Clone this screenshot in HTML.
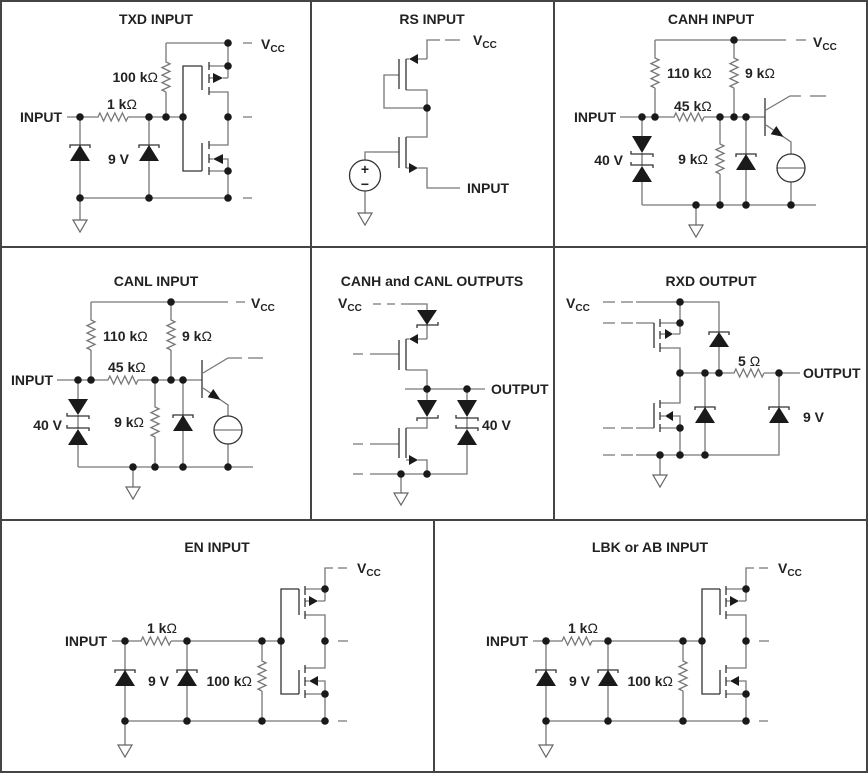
<!DOCTYPE html>
<html><head><meta charset="utf-8"><style>
html,body{margin:0;padding:0;background:#fff;}
svg{display:block;}
text{font-family:"Liberation Sans",Arial,sans-serif;font-weight:bold;font-size:14px;fill:#222;}
.o{font-weight:normal;}
.w{stroke:#777;stroke-width:1.3;fill:none;}
.k{stroke:#333;stroke-width:1.3;fill:none;}
.f{fill:#1a1a1a;stroke:none;}
.g{stroke:#666;stroke-width:1.2;fill:#fff;}
.d{fill:#1a1a1a;}
</style></head><body>
<svg width="868" height="773" viewBox="0 0 868 773">
<rect x="1" y="1" width="866" height="771" fill="none" stroke="#444" stroke-width="2"/>
<path d="M0,247H868M0,520H868M311,0V520M554,0V520M434,520V773" stroke="#444" stroke-width="2" fill="none"/>

<!-- Panel 1 TXD INPUT -->
<text x="156" y="24" text-anchor="middle">TXD INPUT</text>
<path class="w" d="M166,43H228M243,43H252M166,43V62l4,1.875 l-8,3.75 l8,3.75 l-8,3.75 l8,3.75 l-8,3.75 l8,3.75 l-8,3.75 l4,1.875M166,92V117
M67,117H98l1.875,-4 l3.75,8 l3.75,-8 l3.75,8 l3.75,-8 l3.75,8 l3.75,-8 l3.75,8 l1.875,-4M128,117H183
M228,43V78M209,66H228M223,78H228M209,78H213M209,92H228V145H209M243,117H252
M223,159H228V198M209,159H213M209,171H228M80,198H228M243,198H252M80,117V198M149,117V198M80,198V220"/>
<path class="g" d="M73,220H87L80,232Z"/>
<path class="k" d="M202,66H183V171H202M202,66V90M202,143V171M209,62V70M209,74V83M209,87V95M209,141V149M209,154V163M209,167V175
M70,148V145H90V148M139,148V145H159V148"/>
<path class="f" d="M213,73L223,78L213,83ZM223,154L213,159L223,164ZM70,161H90L80,145ZM139,161H159L149,145Z"/>
<g class="d"><circle cx="80" cy="117" r="3.8"/><circle cx="149" cy="117" r="3.8"/><circle cx="166" cy="117" r="3.8"/><circle cx="183" cy="117" r="3.8"/><circle cx="228" cy="43" r="3.8"/><circle cx="228" cy="66" r="3.8"/><circle cx="228" cy="117" r="3.8"/><circle cx="228" cy="171" r="3.8"/><circle cx="80" cy="198" r="3.8"/><circle cx="149" cy="198" r="3.8"/><circle cx="228" cy="198" r="3.8"/></g>
<text x="62" y="122" text-anchor="end">INPUT</text>
<text x="107" y="109">1 k<tspan class="o">Ω</tspan></text>
<text x="158" y="82" text-anchor="end">100 k<tspan class="o">Ω</tspan></text>
<text x="108" y="164">9 V</text>
<text x="261" y="49">V<tspan font-size="10" dy="3">CC</tspan></text>

<!-- Panel 2 RS INPUT -->
<text x="432" y="24" text-anchor="middle">RS INPUT</text>
<path class="w" d="M427,59V40H440M445,40H460M418,59H427M406,59H409M399,75H384V108H427M406,90H427V137H406M399,152H365V160
M406,168H409M418,168H427V188H460M365,191V213"/>
<path class="g" d="M358,213H372L365,225Z"/>
<path class="k" d="M406,59V90M406,137V168M399,59V89M399,137V168"/>
<path class="f" d="M409,59L418,54V64ZM409,163L418,168L409,173Z"/>
<circle cx="365" cy="175.5" r="15.5" fill="none" stroke="#333" stroke-width="1.3"/>
<text x="365" y="174" text-anchor="middle" font-size="13">+</text>
<text x="365" y="189" text-anchor="middle" font-size="13">−</text>
<circle class="d" cx="427" cy="108" r="3.8"/>
<text x="473" y="45">V<tspan font-size="10" dy="3">CC</tspan></text>
<text x="467" y="193">INPUT</text>

<!-- Panel 3 CANH INPUT -->
<text x="711" y="24" text-anchor="middle">CANH INPUT</text>
<path class="w" d="M655,40H786M796,40H806
M655,40V58l4,1.875 l-8,3.75 l8,3.75 l-8,3.75 l8,3.75 l-8,3.75 l8,3.75 l-8,3.75 l4,1.875M655,88V117
M734,40V58l4,1.875 l-8,3.75 l8,3.75 l-8,3.75 l8,3.75 l-8,3.75 l8,3.75 l-8,3.75 l4,1.875M734,88V117
M620,117H674l1.875,-4 l3.75,8 l3.75,-8 l3.75,8 l3.75,-8 l3.75,8 l3.75,-8 l3.75,8 l1.875,-4M704,117H765
M766,110L790,96H801M810,96H826M766,125L791,142V154M777,168H805M791,182V205M642,205H816M696,205V225
M642,117V136M642,153V166M642,182V205
M720,117V144l4,1.875 l-8,3.75 l8,3.75 l-8,3.75 l8,3.75 l-8,3.75 l8,3.75 l-8,3.75 l4,1.875M720,174V205M746,117V205"/>
<path class="g" d="M689,225H703L696,237Z"/>
<circle cx="791" cy="168" r="14" fill="none" stroke="#333" stroke-width="1.3"/>
<path class="k" d="M765,98V136M631,151V154H653V157M631,162V165H653V168M736,157V154H756V157"/>
<path class="f" d="M783.5,136.9L770.7,134.2L776.3,126ZM632,136H652L642,153ZM632,182H652L642,166ZM736,170H756L746,154Z"/>
<g class="d"><circle cx="734" cy="40" r="3.8"/><circle cx="642" cy="117" r="3.8"/><circle cx="655" cy="117" r="3.8"/><circle cx="720" cy="117" r="3.8"/><circle cx="734" cy="117" r="3.8"/><circle cx="746" cy="117" r="3.8"/><circle cx="696" cy="205" r="3.8"/><circle cx="720" cy="205" r="3.8"/><circle cx="746" cy="205" r="3.8"/><circle cx="791" cy="205" r="3.8"/></g>
<text x="813" y="47">V<tspan font-size="10" dy="3">CC</tspan></text>
<text x="667" y="78">110 k<tspan class="o">Ω</tspan></text>
<text x="745" y="78">9 k<tspan class="o">Ω</tspan></text>
<text x="616" y="122" text-anchor="end">INPUT</text>
<text x="674" y="111">45 k<tspan class="o">Ω</tspan></text>
<text x="623" y="165" text-anchor="end">40 V</text>
<text x="708" y="164" text-anchor="end">9 k<tspan class="o">Ω</tspan></text>

<!-- Panel 4 CANL INPUT -->
<text x="156" y="286" text-anchor="middle">CANL INPUT</text>
<path class="w" d="M91,302H228M236,302H245
M91,302V320l4,1.875 l-8,3.75 l8,3.75 l-8,3.75 l8,3.75 l-8,3.75 l8,3.75 l-8,3.75 l4,1.875M91,350V380
M171,302V320l4,1.875 l-8,3.75 l8,3.75 l-8,3.75 l8,3.75 l-8,3.75 l8,3.75 l-8,3.75 l4,1.875M171,350V380
M57,380H108l1.875,-4 l3.75,8 l3.75,-8 l3.75,8 l3.75,-8 l3.75,8 l3.75,-8 l3.75,8 l1.875,-4M138,380H202
M203,373L228,358H242M248,358H263M203,388L228,405V416M214,430H242M228,444V467M78,467H253M133,467V487
M78,380V399M78,415V429M78,445V467
M155,380V407l4,1.875 l-8,3.75 l8,3.75 l-8,3.75 l8,3.75 l-8,3.75 l8,3.75 l-8,3.75 l4,1.875M155,437V467M183,380V467"/>
<path class="g" d="M126,487H140L133,499Z"/>
<circle cx="228" cy="430" r="14" fill="none" stroke="#333" stroke-width="1.3"/>
<path class="k" d="M202,360V398M67,413V416H89V419M67,425V428H89V431M173,418V415H193V418"/>
<path class="f" d="M220.5,399.9L207.7,397.2L213.3,389ZM68,399H88L78,415ZM68,445H88L78,429ZM173,431H193L183,415Z"/>
<g class="d"><circle cx="171" cy="302" r="3.8"/><circle cx="78" cy="380" r="3.8"/><circle cx="91" cy="380" r="3.8"/><circle cx="155" cy="380" r="3.8"/><circle cx="171" cy="380" r="3.8"/><circle cx="183" cy="380" r="3.8"/><circle cx="133" cy="467" r="3.8"/><circle cx="155" cy="467" r="3.8"/><circle cx="183" cy="467" r="3.8"/><circle cx="228" cy="467" r="3.8"/></g>
<text x="251" y="308">V<tspan font-size="10" dy="3">CC</tspan></text>
<text x="103" y="341">110 k<tspan class="o">Ω</tspan></text>
<text x="182" y="341">9 k<tspan class="o">Ω</tspan></text>
<text x="53" y="385" text-anchor="end">INPUT</text>
<text x="108" y="372">45 k<tspan class="o">Ω</tspan></text>
<text x="62" y="430" text-anchor="end">40 V</text>
<text x="144" y="427" text-anchor="end">9 k<tspan class="o">Ω</tspan></text>

<!-- Panel 5 CANH and CANL OUTPUTS -->
<text x="432" y="286" text-anchor="middle">CANH and CANL OUTPUTS</text>
<text x="338" y="308">V<tspan font-size="10" dy="3">CC</tspan></text>
<path class="w" d="M373,304H381M387,304H395M401,304H427V310M427,325V339M418,339H427M406,339H409
M353,354H363M370,354H399M406,370H427V400M405,389H485M427,418V428H406
M353,444H363M370,444H399M406,460H409M418,460H427V474M353,474H363M370,474H467V445
M467,389V400M467,417V429M401,474V493"/>
<path class="g" d="M394,493H408L401,505Z"/>
<path class="k" d="M417,328V325H438V322M406,339V370M399,340V370M417,421V418H438V415M406,428V458M399,428V458M456,415V418H478V421M456,425V428H478V431"/>
<path class="f" d="M417,310H437L427,325ZM409,339L418,334V344ZM417,400H437L427,417ZM409,455L418,460L409,465ZM457,400H477L467,417ZM457,445H477L467,429Z"/>
<g class="d"><circle cx="427" cy="389" r="3.8"/><circle cx="467" cy="389" r="3.8"/><circle cx="401" cy="474" r="3.8"/><circle cx="427" cy="474" r="3.8"/></g>
<text x="491" y="394">OUTPUT</text>
<text x="482" y="430">40 V</text>

<!-- Panel 6 RXD OUTPUT -->
<text x="711" y="286" text-anchor="middle">RXD OUTPUT</text>
<text x="566" y="308">V<tspan font-size="10" dy="3">CC</tspan></text>
<path class="w" d="M603,302H615M621,302H633M636,302H719V332M719,347V373
M680,302V334M603,323H615M621,323H633M636,323H654M660,323H680M660,334H665M673,334H680M660,348H680V403H660
M680,373H734l1.875,-4 l3.75,8 l3.75,-8 l3.75,8 l3.75,-8 l3.75,8 l3.75,-8 l3.75,8 l1.875,-4M764,373H800
M603,428H615M621,428H633M636,428H654M660,416H665M673,416H680V455M660,428H680
M603,455H615M621,455H633M636,455H779V373M705,373V455M660,455V475"/>
<path class="g" d="M653,475H667L660,487Z"/>
<path class="k" d="M709,335V332H729V335M654,323V348M660,319V327M660,331V339M660,343V352M660,400V408M660,412V420M660,424V432M654,403V428
M695,410V407H715V410M769,410V407H789V410"/>
<path class="f" d="M709,347H729L719,332ZM665,329L673,334L665,339ZM665,416L673,411V421ZM695,423H715L705,407ZM769,423H789L779,407Z"/>
<g class="d"><circle cx="680" cy="302" r="3.8"/><circle cx="680" cy="323" r="3.8"/><circle cx="680" cy="373" r="3.8"/><circle cx="705" cy="373" r="3.8"/><circle cx="719" cy="373" r="3.8"/><circle cx="779" cy="373" r="3.8"/><circle cx="680" cy="428" r="3.8"/><circle cx="660" cy="455" r="3.8"/><circle cx="680" cy="455" r="3.8"/><circle cx="705" cy="455" r="3.8"/></g>
<text x="738" y="366">5 <tspan class="o">Ω</tspan></text>
<text x="803" y="378">OUTPUT</text>
<text x="803" y="422">9 V</text>

<!-- Panel 7 EN INPUT -->
<text x="217" y="552" text-anchor="middle">EN INPUT</text>
<g id="p7">
<text x="357" y="573">V<tspan font-size="10" dy="3">CC</tspan></text>
<path class="w" d="M325,589V568H333M338,568H347M305,589H325V601M305,601H309M318,601H325M305,615H325V668H305
M305,681H309M318,681H325V721M305,694H325M338,641H348M338,721H347
M112,641H141l1.875,-4 l3.75,8 l3.75,-8 l3.75,8 l3.75,-8 l3.75,8 l3.75,-8 l3.75,8 l1.875,-4M171,641H281
M125,721H325M125,641V721M187,641V721
M262,641V661l4,1.875 l-8,3.75 l8,3.75 l-8,3.75 l8,3.75 l-8,3.75 l8,3.75 l-8,3.75 l4,1.875M262,691V721M125,721V745"/>
<path class="g" d="M118,745H132L125,757Z"/>
<path class="k" d="M299,589H281V694H299M299,589V615M299,670V694M305,586V595M305,598V607M305,611V619M305,665V673M305,677V686M305,690V698
M115,673V670H135V673M177,673V670H197V673"/>
<path class="f" d="M309,596L318,601L309,606ZM309,681L318,676V686ZM115,686H135L125,670ZM177,686H197L187,670Z"/>
<g class="d"><circle cx="325" cy="589" r="3.8"/><circle cx="325" cy="641" r="3.8"/><circle cx="325" cy="694" r="3.8"/><circle cx="125" cy="641" r="3.8"/><circle cx="187" cy="641" r="3.8"/><circle cx="262" cy="641" r="3.8"/><circle cx="281" cy="641" r="3.8"/><circle cx="125" cy="721" r="3.8"/><circle cx="187" cy="721" r="3.8"/><circle cx="262" cy="721" r="3.8"/><circle cx="325" cy="721" r="3.8"/></g>
<text x="107" y="646" text-anchor="end">INPUT</text>
<text x="147" y="633">1 k<tspan class="o">Ω</tspan></text>
<text x="148" y="686">9 V</text>
<text x="252" y="686" text-anchor="end">100 k<tspan class="o">Ω</tspan></text>
</g>

<!-- Panel 8 LBK or AB INPUT -->
<text x="650" y="552" text-anchor="middle">LBK or AB INPUT</text>
<g transform="translate(421,0)">
<text x="357" y="573">V<tspan font-size="10" dy="3">CC</tspan></text>
<path class="w" d="M325,589V568H333M338,568H347M305,589H325V601M305,601H309M318,601H325M305,615H325V668H305
M305,681H309M318,681H325V721M305,694H325M338,641H348M338,721H347
M112,641H141l1.875,-4 l3.75,8 l3.75,-8 l3.75,8 l3.75,-8 l3.75,8 l3.75,-8 l3.75,8 l1.875,-4M171,641H281
M125,721H325M125,641V721M187,641V721
M262,641V661l4,1.875 l-8,3.75 l8,3.75 l-8,3.75 l8,3.75 l-8,3.75 l8,3.75 l-8,3.75 l4,1.875M262,691V721M125,721V745"/>
<path class="g" d="M118,745H132L125,757Z"/>
<path class="k" d="M299,589H281V694H299M299,589V615M299,670V694M305,586V595M305,598V607M305,611V619M305,665V673M305,677V686M305,690V698
M115,673V670H135V673M177,673V670H197V673"/>
<path class="f" d="M309,596L318,601L309,606ZM309,681L318,676V686ZM115,686H135L125,670ZM177,686H197L187,670Z"/>
<g class="d"><circle cx="325" cy="589" r="3.8"/><circle cx="325" cy="641" r="3.8"/><circle cx="325" cy="694" r="3.8"/><circle cx="125" cy="641" r="3.8"/><circle cx="187" cy="641" r="3.8"/><circle cx="262" cy="641" r="3.8"/><circle cx="281" cy="641" r="3.8"/><circle cx="125" cy="721" r="3.8"/><circle cx="187" cy="721" r="3.8"/><circle cx="262" cy="721" r="3.8"/><circle cx="325" cy="721" r="3.8"/></g>
<text x="107" y="646" text-anchor="end">INPUT</text>
<text x="147" y="633">1 k<tspan class="o">Ω</tspan></text>
<text x="148" y="686">9 V</text>
<text x="252" y="686" text-anchor="end">100 k<tspan class="o">Ω</tspan></text>
</g>
</svg>
</body></html>
